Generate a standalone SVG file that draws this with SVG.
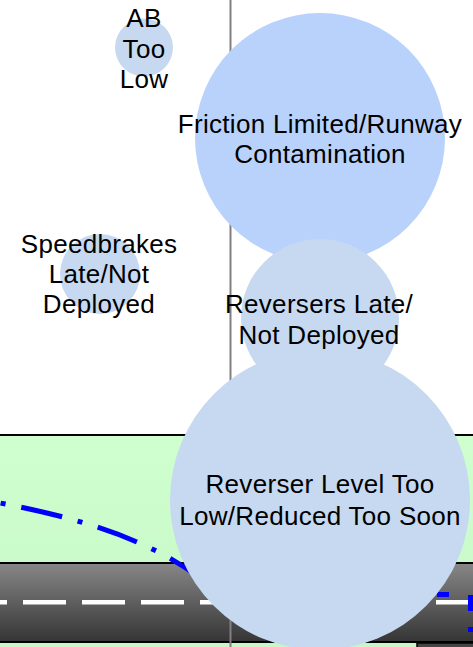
<svg xmlns="http://www.w3.org/2000/svg" width="473" height="647" viewBox="0 0 473 647">
<defs>
<linearGradient id="road" x1="0" y1="0" x2="0" y2="1">
<stop offset="0" stop-color="#878787"/>
<stop offset="1" stop-color="#353535"/>
</linearGradient>
<linearGradient id="grass" x1="0" y1="0" x2="0" y2="1">
<stop offset="0" stop-color="#cfffcf"/>
<stop offset="1" stop-color="#c6f7c6"/>
</linearGradient>
</defs>
<style>
.bub{fill:#c6d9f0;stroke:none}
.bub2{fill:#b9d2fc;stroke:none}
.lbl{font-family:"Liberation Sans",Arial,sans-serif;font-size:26px;letter-spacing:0.3px;fill:#000;text-anchor:middle}
.path{fill:none;stroke:#0000ff;stroke-width:5}
</style>
<rect x="0" y="0" width="473" height="647" fill="#ffffff"/>
<g id="scene">
<rect x="-3" y="435" width="480" height="220" fill="url(#grass)" stroke="#000" stroke-width="2"/>
<rect x="-3" y="563" width="480" height="79" fill="url(#road)" stroke="#000" stroke-width="2"/>
<rect x="417" y="643" width="60" height="10" fill="#444" stroke="#000" stroke-width="1.5"/>
<line x1="0" y1="602.3" x2="480" y2="602.3" stroke="#ffffff" stroke-width="4.6" stroke-dasharray="43 16" stroke-dashoffset="36"/>
<line x1="230.5" y1="0" x2="230.5" y2="647" stroke="#808080" stroke-width="2"/>
</g>
<g id="connectors">
<path class="path" d="M0,503 C80,518 150,540 200,578 Q222,594.5 262,594.5" stroke-dasharray="42 16 5 16" stroke-dashoffset="57.4"/>
<path class="path" d="M437,594.5 H470.5 V660" stroke-dasharray="12 22 16 16 5 16 42 16 5 16"/>
</g>
<g id="node-ab">
<circle class="bub" cx="144" cy="47.5" r="29"/>
<text class="lbl" x="144" y="27.3">AB</text>
<text class="lbl" x="144" y="57.5">Too</text>
<text class="lbl" x="144" y="88.3">Low</text>
</g>
<g id="node-speedbrakes">
<circle class="bub" cx="100" cy="274" r="40"/>
<text class="lbl" x="99" y="253.3">Speedbrakes</text>
<text class="lbl" x="99" y="283.3">Late/Not</text>
<text class="lbl" x="99" y="313.3">Deployed</text>
</g>
<g id="node-friction">
<circle class="bub2" cx="320" cy="138" r="125"/>
<text class="lbl" x="320" y="133.3">Friction Limited/Runway</text>
<text class="lbl" x="320" y="163.3">Contamination</text>
</g>
<g id="node-reversers-late">
<circle class="bub" cx="320" cy="318" r="79"/>
<text class="lbl" x="319" y="313.3">Reversers Late/</text>
<text class="lbl" x="319" y="344">Not Deployed</text>
</g>
<g id="node-reverser-level">
<circle class="bub" cx="320" cy="500" r="150"/>
<text class="lbl" x="320" y="493.3">Reverser Level Too</text>
<text class="lbl" x="320" y="524.5">Low/Reduced Too Soon</text>
</g>
</svg>
